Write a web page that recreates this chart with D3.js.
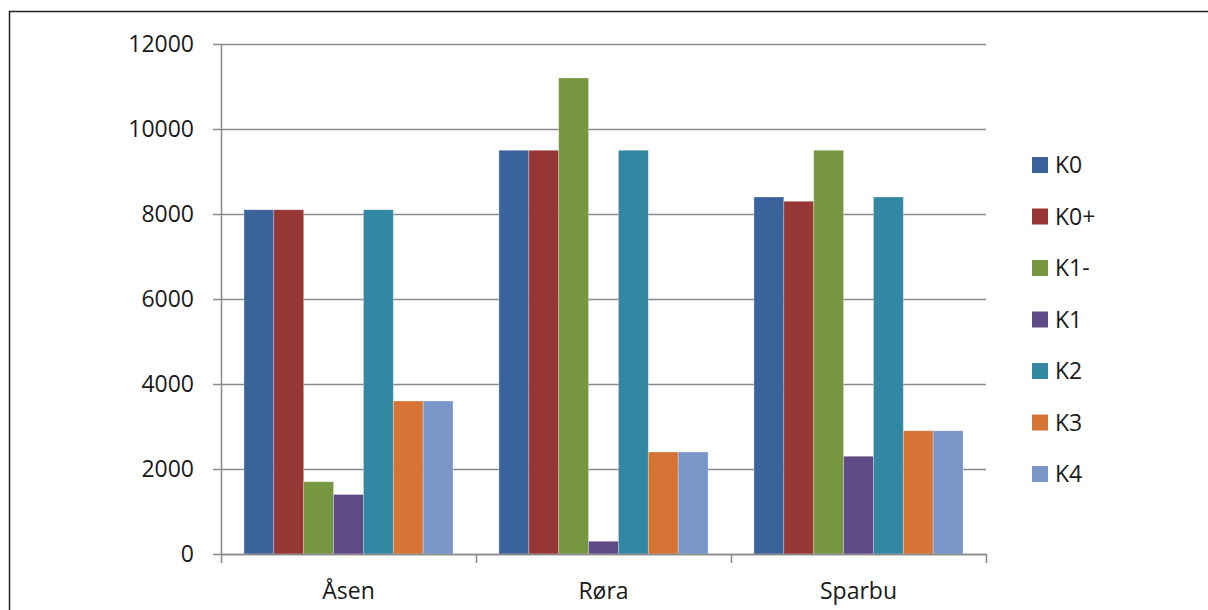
<!DOCTYPE html>
<meta charset="utf-8">
<style>
  body { margin: 0; background: #fff; }
  text { font-family: "Open Sans", "DejaVu Sans", sans-serif; fill: #1a1a1a; }
</style>
<script src="https://d3js.org/d3.v7.min.js"></script>
<div id="chart"></div>
<script>
// data
const categories = ["Åsen", "Røra", "Sparbu"];
const series = ["K0", "K0+", "K1-", "K1", "K2", "K3", "K4"];
const K0  = [8100, 9500, 8400];
const K0p = [8100, 9500, 8300];
const K1m = [1700, 11200, 9500];
const K1  = [1400, 300, 2300];
const K2  = [8100, 9500, 8400];
const K3  = [3600, 2400, 2900];
const K4  = [3600, 2400, 2900];
const yTicks = [0, 2000, 4000, 6000, 8000, 10000, 12000];
const colors = ["#3A639C", "#963735", "#76963F", "#5F4A86", "#3288A2", "#D67436", "#7896C8"];

const values = [K0, K0p, K1m, K1, K2, K3, K4];

const width = 1208, height = 610;
const plot = {left: 221, right: 986, top: 44, bottom: 554};

const svg = d3.select("#chart").append("svg")
    .attr("width", width)
    .attr("height", height);

// outer frame (runs off the page on the right and bottom)
svg.append("rect")
    .attr("x", 9.5).attr("y", 11.5)
    .attr("width", 1220).attr("height", 620)
    .attr("fill", "none")
    .attr("stroke", "#222")
    .attr("stroke-width", 1.5);

const y = d3.scaleLinear().domain([0, 12000]).range([plot.bottom, plot.top]);
const x0 = d3.scaleBand().domain(categories).range([plot.left, plot.right]);
// each category keeps a gap of about 9% of the band on either side
const x1 = d3.scaleBand().domain(series)
    .range([x0.bandwidth() * 0.09, x0.bandwidth() * 0.91]);
const color = d3.scaleOrdinal().domain(series).range(colors);

// gridlines
svg.append("g")
  .selectAll("line")
  .data(yTicks)
  .enter()
  .append("line")
    .attr("x1", plot.left - 8)
    .attr("x2", plot.right)
    .attr("y1", d => Math.round(y(d)) + 0.5)
    .attr("y2", d => Math.round(y(d)) + 0.5)
    .attr("stroke", "#8a8a8a")
    .attr("stroke-width", 1.5);

// y labels
svg.append("g")
  .selectAll("text")
  .data(yTicks)
  .enter()
  .append("text")
    .attr("x", 194)
    .attr("y", d => y(d))
    .attr("dy", "0.35em")
    .attr("text-anchor", "end")
    .attr("font-size", "23px")
    .text(d => d);

// bars
const rows = categories.map((c, i) => ({cat: c, vals: series.map((s, j) => ({s: s, v: values[j][i]}))}));
svg.append("g")
  .selectAll("g")
  .data(rows)
  .enter()
  .append("g")
    .attr("transform", d => "translate(" + x0(d.cat) + ",0)")
  .selectAll("rect")
  .data(d => d.vals)
  .enter()
  .append("rect")
    .attr("x", d => x1(d.s))
    .attr("width", x1.bandwidth())
    .attr("y", d => y(d.v))
    .attr("height", d => y(0) - y(d.v))
    .attr("fill", d => color(d.s))
    .attr("stroke", "rgba(255,255,255,0.35)")
    .attr("stroke-width", 0.8);

// axes lines
svg.append("line")
    .attr("x1", plot.left + 0.5).attr("x2", plot.left + 0.5)
    .attr("y1", plot.top).attr("y2", plot.bottom + 9)
    .attr("stroke", "#8a8a8a").attr("stroke-width", 1.5);
svg.append("line")
    .attr("x1", plot.left).attr("x2", plot.right)
    .attr("y1", plot.bottom + 0.5).attr("y2", plot.bottom + 0.5)
    .attr("stroke", "#8a8a8a").attr("stroke-width", 1.5);

// category ticks
svg.append("g")
  .selectAll("line")
  .data(categories.slice(1).map(c => x0(c)).concat([plot.right]))
  .enter()
  .append("line")
    .attr("x1", d => Math.round(d) + 0.5)
    .attr("x2", d => Math.round(d) + 0.5)
    .attr("y1", plot.bottom)
    .attr("y2", plot.bottom + 9)
    .attr("stroke", "#8a8a8a")
    .attr("stroke-width", 1.5);

// category labels
svg.append("g")
  .selectAll("text")
  .data(categories)
  .enter()
  .append("text")
    .attr("x", d => x0(d) + x0.bandwidth() / 2)
    .attr("y", 591)
    .attr("dy", "0.35em")
    .attr("text-anchor", "middle")
    .attr("font-size", "23px")
    .text(d => d);

// legend
const legend = svg.append("g")
  .selectAll("g")
  .data(series)
  .enter()
  .append("g")
    .attr("transform", (d, i) => "translate(1032," + (165 + i * 51.5) + ")");
legend.append("rect")
    .attr("x", 0).attr("y", -8)
    .attr("width", 16).attr("height", 16)
    .attr("fill", d => color(d));
legend.append("text")
    .attr("x", 23)
    .attr("y", 0)
    .attr("dy", "0.35em")
    .attr("font-size", "23px")
    .text(d => d);
</script>
